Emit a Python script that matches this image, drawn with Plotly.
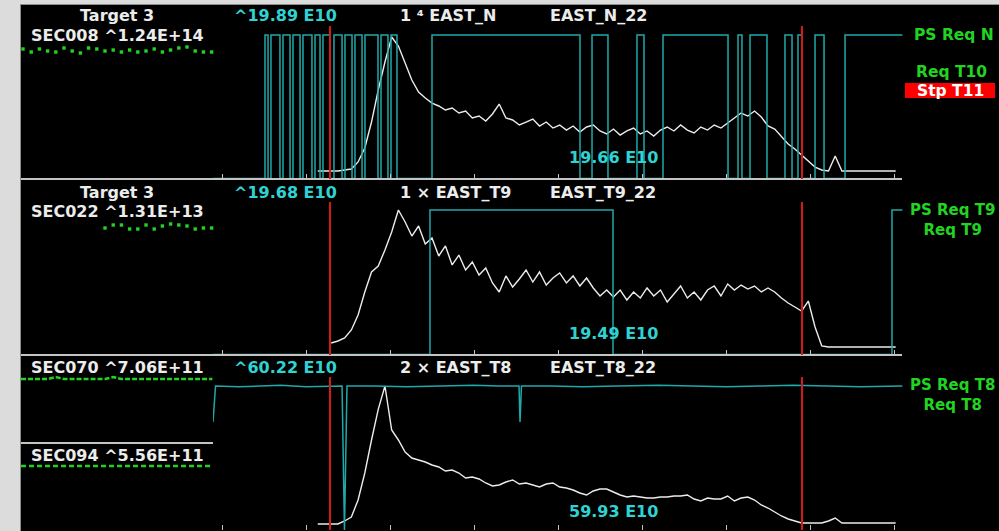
import plotly.graph_objects as go

# ---------------------------------------------------------------
# Beam data (time in ms, intensity in E10 protons)
# ---------------------------------------------------------------
TICKS_MS = [0, 100, 200, 300, 400, 500, 600, 700, 800]
MARKERS_MS = [128.6, 690.5]          # red timing markers

SAMPLE_MS = 8

EAST_N_T0 = 114
EAST_N_E10 = [0, 0, 0, 0, 0.15, 0.3, 1.34, 3.41, 7.27, 12.02, 16.18, 19.89,
              18.55, 15.88, 13.5, 11.72, 10.83, 10.09, 9.65, 9.05, 9.35, 8.61,
              8.9, 7.87, 8.16, 7.42, 8.46, 9.94, 7.87, 7.57, 6.83, 7.27, 7.72,
              6.68, 7.27, 6.38, 6.83, 6.08, 6.68, 5.79, 6.53, 6.83, 5.94, 5.49,
              6.23, 5.34, 5.94, 6.38, 5.49, 5.94, 5.19, 6.08, 6.53, 5.94, 6.83,
              6.08, 5.64, 6.53, 6.08, 6.83, 6.38, 7.12, 7.87, 8.61, 8.16, 8.9,
              8.01, 6.68, 6.23, 5.05, 4.01, 3.26, 2.37, 1.34, 0.59, 0.15, 0,
              2.23, 0, 0, 0, 0, 0, 0, 0, 0, 0]

EAST_T9_T0 = 130
EAST_T9_E10 = [0.71, 1.0, 1.43, 2.57, 4.71, 7.99, 10.84, 11.69, 13.98, 16.54,
               19.68, 17.97, 15.97, 17.4, 14.83, 15.69, 13.12, 14.55, 11.84,
               13.26, 11.12, 12.26, 10.41, 11.41, 9.27, 7.99, 10.27, 8.7, 9.84,
               11.12, 9.41, 10.84, 8.98, 9.98, 10.7, 9.27, 10.27, 8.84, 9.98,
               8.56, 7.42, 8.27, 7.27, 8.27, 6.85, 7.99, 7.13, 8.56, 7.42, 8.27,
               6.56, 7.7, 8.84, 7.13, 7.99, 6.85, 8.27, 8.84, 7.42, 9.13, 8.27,
               8.98, 8.41, 8.84, 7.99, 8.56, 7.99, 7.13, 6.42, 5.85, 5.28, 6.7,
               3.0, 0.29, 0.14, 0.14, 0.14, 0.14, 0.14, 0.14, 0.14, 0.14, 0.14,
               0.14, 0.14]

EAST_T8_T0 = 114
EAST_T8_E10 = [0, 0, 0, 0, 1.31, 3.05, 10.47, 22.26, 36.66, 50.0, 60.22, 41.02,
               36.66, 31.42, 28.8, 27.93, 27.06, 25.75, 24.87, 23.13, 23.56,
               22.26, 20.07, 20.51, 19.64, 17.89, 16.58, 17.02, 18.33, 19.2,
               17.46, 17.89, 17.02, 16.15, 17.46, 17.89, 16.15, 15.71, 14.84,
               13.53, 12.66, 14.4, 15.27, 15.27, 13.96, 12.66, 11.78, 12.22,
               11.78, 11.35, 11.35, 11.78, 11.78, 12.22, 12.22, 12.66, 10.91,
               10.04, 11.35, 10.91, 10.91, 12.22, 10.04, 11.35, 11.78, 10.47,
               8.29, 6.98, 5.24, 3.49, 2.18, 1.31, 0.44, 0.44, 0.44, 0.44, 1.31,
               2.62, 0.44, 0.44, 0.44, 0.44, 0.44, 0.44, 0.44, 0.44, 0.44]

# Request lines (cyan): edge times (ms) and the state after each edge
REQ_N_MS = [-10.7, 51.2, 54.8, 58.3, 69.0, 72.6, 81.0, 84.5, 92.9, 96.4, 107.1,
            110.7, 116.7, 120.2, 128.6, 133.3, 142.9, 146.4, 154.8, 158.3,
            166.7, 170.2, 185.7, 189.3, 197.6, 201.2, 208.3, 250.0, 426.2,
            440.5, 459.5, 494.0, 502.4, 525.0, 602.4, 614.3, 619.0, 628.6,
            648.8, 670.2, 678.6, 685.7, 690.5, 706.0, 716.7, 741.7, 810.0]
REQ_N_STATE = [0, 1, 0, 1, 0, 1, 0, 1, 0, 1, 0,
               1, 0, 1, 0, 1, 0, 1, 0, 1,
               0, 1, 0, 1, 0, 1, 0, 1, 0,
               1, 0, 1, 0, 1, 0, 1, 0, 1,
               0, 1, 0, 1, 0, 1, 0, 1, 1]

REQ_T9_MS = [-10.7, 247.6, 465.5, 797.6, 810.0]
REQ_T9_STATE = [0, 1, 0, 1, 1]

REQ_T8_MS = [-10.7, -7.7, 20, 45, 70, 100, 125, 142.9, 145.8, 148.8, 180, 220,
             260, 300, 330, 353.6, 354.8, 356.5, 390, 430, 470, 520, 560, 600,
             640, 680, 720, 760, 810]
REQ_T8_LEVEL = [0.75, 1.0, 0.995, 1.0, 1.005, 0.995, 1.0, 1.0, 0.0, 1.0, 1.0,
                0.995, 1.0, 1.005, 1.0, 1.0, 0.75, 1.0, 1.0, 0.995, 1.0, 1.005,
                1.0, 0.995, 1.0, 1.005, 1.0, 0.995, 1.0]

# Secondary-emission monitor trends (relative), one sample per slot
SEC008_TREND = [0.99, 1.02, 0.99, 1.01, 1.02, 0.98, 1.01, 1.03, 0.98, 0.99,
                1.01, 1.0, 1.02, 1.0, 1.02, 1.01, 0.99, 1.02, 1.0, 0.98, 0.97,
                1.01, 1.02, 1.02]
SEC022_SLOT0 = 10
SEC022_TREND = [1.02, 0.99, 0.99, 1.03, 1.03, 0.99, 1.03, 1.0, 0.98, 0.99,
                1.0, 1.03, 1.02, 1.02]
SEC070_TREND = [1.0, 1.0, 1.0, 1.0, 0.98, 1.0, 1.0, 1.0, 1.0, 1.0, 1.0, 0.98,
                1.0, 1.0, 1.0, 1.0, 1.0, 1.0, 1.0, 1.0, 1.0, 1.0, 1.0, 1.0]
SEC094_TREND = [1.0, 1.0, 1.0, 1.0, 1.0, 1.0, 1.0, 1.0, 1.0, 1.0, 1.0, 1.0,
                1.0, 1.0, 1.0, 1.0, 1.0, 1.0, 1.0, 1.0, 1.0, 1.0, 1.0, 1.0]

# Text
TARGET_LABELS = ["Target 3", "Target 3"]
SEC_LABELS = ["SEC008 ^1.24E+14", "SEC022 ^1.31E+13", "SEC070 ^7.06E+11",
              "SEC094 ^5.56E+11"]
PEAK_LABELS = ["^19.89 E10", "^19.68 E10", "^60.22 E10"]
BEAM_LABELS = ["1 \u2074 EAST_N", "1 \u00d7 EAST_T9", "2 \u00d7 EAST_T8"]
CYCLE_LABELS = ["EAST_N_22", "EAST_T9_22", "EAST_T8_22"]
LAST_LABELS = ["19.66 E10", "19.49 E10", "59.93 E10"]
REQ_LABELS = [["PS Req N", "Req T10"], ["PS Req T9", "Req T9"],
              ["PS Req T8", "Req T8"]]
STOP_LABEL = "Stp T11"

# ---------------------------------------------------------------
# Geometry (pixels of the 999 x 531 canvas)
# ---------------------------------------------------------------
W, H = 999, 531


def px(x):
    return x / W


def py(y):
    return 1 - y / H


def lin_range(top, bot, va, pa, vb, pb):
    s = (vb - va) / (pb - pa)
    return [va + s * (bot - pa), va + s * (top - pa)]


PLOT_X0, PLOT_X1 = 213, 903
T_RANGE = lin_range(PLOT_X0, PLOT_X1, 0, 222, 100, 306)
T_RANGE = [min(T_RANGE), max(T_RANGE)]

PANEL_GEOM = [
    dict(top=26, bot=179, inten=(0, 171, 19.89, 37), dig=(0, 178.5, 1, 35)),
    dict(top=202, bot=355, inten=(0, 348, 19.68, 210), dig=(0, 354.5, 1, 210)),
    dict(top=377, bot=530, inten=(0, 524, 60.22, 386), dig=(0, 530, 1, 386)),
]

WHITE = "#ececec"
CYAN_LINE = "#1fa9a9"
CYAN_TEXT = "#2fd3d3"
GREEN = "#22d422"
RED = "#d61a1a"
GRID = "#c4c4c4"
FONT = "DejaVu Sans"

fig = go.Figure()

xa_names = ["x", "x2", "x3"]
ya_int = ["y", "y3", "y5"]
ya_dig = ["y2", "y4", "y6"]

intensity = [(EAST_N_T0, EAST_N_E10), (EAST_T9_T0, EAST_T9_E10),
             (EAST_T8_T0, EAST_T8_E10)]
requests = [(REQ_N_MS, REQ_N_STATE, "hv"), (REQ_T9_MS, REQ_T9_STATE, "hv"),
            (REQ_T8_MS, REQ_T8_LEVEL, "linear")]

layout_axes = {}
for i, g in enumerate(PANEL_GEOM):
    dom = [py(g["bot"]), py(g["top"])]
    xk = "xaxis" if i == 0 else f"xaxis{i + 1}"
    yk_i = "yaxis" if i == 0 else f"yaxis{2 * i + 1}"
    yk_d = f"yaxis{2 * i + 2}"
    layout_axes[xk] = dict(domain=[px(PLOT_X0), px(PLOT_X1)], range=T_RANGE,
                           anchor=ya_int[i], showgrid=False, zeroline=False,
                           showline=False, ticks="inside", ticklen=5,
                           tickwidth=1, tickcolor=GRID, tickvals=TICKS_MS,
                           showticklabels=False, fixedrange=True)
    layout_axes[yk_i] = dict(domain=dom, range=lin_range(g["top"], g["bot"], *g["inten"]),
                             anchor=xa_names[i], visible=False, fixedrange=True)
    layout_axes[yk_d] = dict(domain=dom, range=lin_range(g["top"], g["bot"], *g["dig"]),
                             anchor=xa_names[i], overlaying=ya_int[i],
                             visible=False, fixedrange=True)

    rt, rv, shape = requests[i]
    fig.add_trace(go.Scatter(x=rt, y=rv, mode="lines", line_shape=shape,
                             line=dict(color=CYAN_LINE, width=1.5),
                             xaxis=xa_names[i], yaxis=ya_dig[i],
                             hoverinfo="skip"))
    t0, vals = intensity[i]
    fig.add_trace(go.Scatter(x0=t0, dx=SAMPLE_MS, y=vals, mode="lines",
                             line=dict(color=WHITE, width=1.4),
                             xaxis=xa_names[i], yaxis=ya_int[i],
                             hoverinfo="skip"))

# left-hand monitor trend strips
LEFT_X0, LEFT_X1 = 21, 214
layout_axes["xaxis4"] = dict(domain=[px(LEFT_X0), px(LEFT_X1)],
                             range=lin_range(LEFT_X0, LEFT_X1, 0, 23, 23, 211.6)[::-1],
                             anchor="y7", visible=False, fixedrange=True)
rows = [(50, "y7", list(range(len(SEC008_TREND))), SEC008_TREND, "dots"),
        (226, "y8", [SEC022_SLOT0 + k for k in range(len(SEC022_TREND))], SEC022_TREND, "dots"),
        (379, "y9", list(range(len(SEC070_TREND))), SEC070_TREND, "dash"),
        (466, "y10", list(range(len(SEC094_TREND))), SEC094_TREND, "dash2")]
for n, (yc, yname, xs, vals, style) in enumerate(rows):
    layout_axes["yaxis" + yname[1:]] = dict(
        domain=[py(yc + 10), py(yc - 10)],
        range=lin_range(yc - 10, yc + 10, 1.0, yc, 1.1, yc - 10)[::-1],
        anchor="x4", visible=False, fixedrange=True)
    if style == "dots":
        tr = go.Scatter(x=xs, y=vals, mode="markers",
                        marker=dict(symbol="square", size=3.4, color=GREEN),
                        xaxis="x4", yaxis=yname, hoverinfo="skip")
    else:
        dash = "5px,2px" if style == "dash" else "5px,3px"
        xs_full = [xs[0] - 0.24] + xs[1:-1] + [xs[-1] + 0.1]
        tr = go.Scatter(x=xs_full, y=vals, mode="lines",
                        line=dict(color=GREEN, width=2.6, dash=dash),
                        xaxis="x4", yaxis=yname, hoverinfo="skip")
    fig.add_trace(tr)

# ---------------------------------------------------------------
# Shapes
# ---------------------------------------------------------------
shapes = [
    dict(type="rect", xref="paper", yref="paper", x0=px(20.5), x1=px(1010),
         y0=py(4.5), y1=py(545), fillcolor="black",
         line=dict(color="#8c8c8c", width=1), layer="below"),
]
for yline, xend in [(179, 902), (355, 902), (443, 213)]:
    shapes.append(dict(type="line", xref="paper", yref="paper",
                       x0=px(21), x1=px(xend), y0=py(yline), y1=py(yline),
                       line=dict(color=GRID, width=2), layer="above"))
for i in range(3):
    for t in MARKERS_MS:
        shapes.append(dict(type="line", xref=xa_names[i],
                           yref=f"{ya_int[i]} domain", x0=t, x1=t, y0=0, y1=1,
                           line=dict(color=RED, width=2), layer="above"))
shapes.append(dict(type="rect", xref="paper", yref="paper", x0=px(905),
                   x1=px(995), y0=py(98), y1=py(83), fillcolor="#ff0000",
                   line=dict(width=0), layer="above"))

# ---------------------------------------------------------------
# Text
# ---------------------------------------------------------------
ann = []


def label(text, x, y, color, anchor="left", size=16):
    ann.append(dict(text=text, x=px(x), y=py(y), xref="paper", yref="paper",
                    xanchor=anchor, yanchor="middle", showarrow=False,
                    align="center",
                    font=dict(family=FONT, size=size, color=color,
                              weight="bold")))


label(TARGET_LABELS[0], 117, 16, WHITE, "center")
label(SEC_LABELS[0], 117, 35, WHITE, "center")
label(TARGET_LABELS[1], 117, 192, WHITE, "center")
label(SEC_LABELS[1], 117, 212, WHITE, "center")
label(SEC_LABELS[2], 117, 367, WHITE, "center")
label(SEC_LABELS[3], 117, 455, WHITE, "center")

for i, yh in enumerate([16, 192, 367]):
    label(PEAK_LABELS[i], 232, yh, CYAN_TEXT)
    label(BEAM_LABELS[i], 398, yh, WHITE)
    label(CYCLE_LABELS[i], 548, yh, WHITE)
for i, yv in enumerate([157, 333, 511]):
    label(LAST_LABELS[i], 567, yv, CYAN_TEXT)

label(REQ_LABELS[0][0], 912, 35, GREEN, size=15.5)
label(REQ_LABELS[0][1], 951, 72, GREEN, "center", size=15.5)
label(STOP_LABEL, 950, 90.5, "#ffffff", "center", size=15.5)
# two-line request captions for the T9 and T8 lines
label("<br>".join(REQ_LABELS[1]), 952, 220, GREEN, "center", size=15)
label("<br>".join(REQ_LABELS[2]), 952, 394.5, GREEN, "center", size=15)

fig.update_layout(
    width=W, height=H, margin=dict(l=0, r=0, t=0, b=0, pad=0),
    paper_bgcolor="#dcdcdc", plot_bgcolor="rgba(0,0,0,0)",
    showlegend=False, shapes=shapes, annotations=ann, **layout_axes,
)

fig.write_html("out.html", config={"displayModeBar": False})
